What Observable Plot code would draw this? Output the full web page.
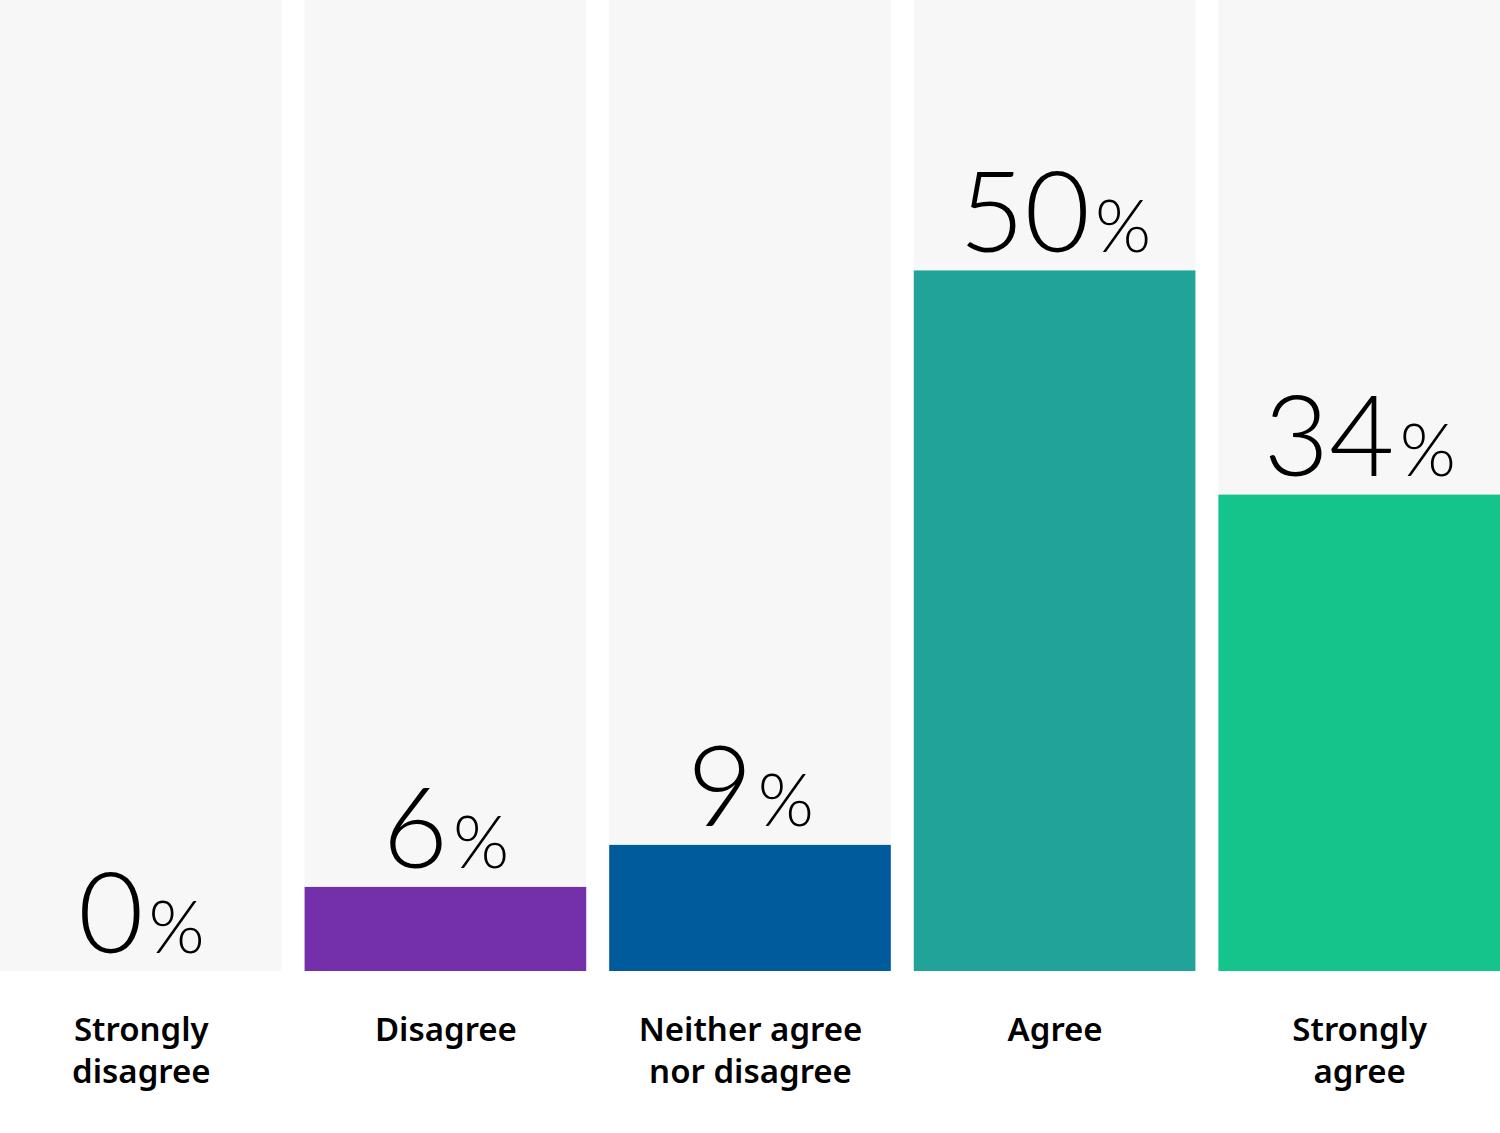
<!DOCTYPE html>
<html>
<head>
<meta charset="utf-8">
<script src="https://cdn.jsdelivr.net/npm/d3@7"></script>
<script src="https://cdn.jsdelivr.net/npm/@observablehq/plot@0.6"></script>
<style>
  html, body { margin: 0; padding: 0; background: #ffffff; }
  #chart svg { display: block; }
</style>
</head>
<body>
<div id="chart"></div>
<script>
const categories = ["Strongly disagree", "Disagree", "Neither agree nor disagree", "Agree", "Strongly agree"];
const tickLabels = ["Strongly\ndisagree", "Disagree", "Neither agree\nnor disagree", "Agree", "Strongly\nagree"];
const values = [0, 6, 9, 50, 34];
const colors = ["#9a9a9a", "#7430ab", "#005b9c", "#21a39a", "#14c48a"];

const data = categories.map((c, i) => ({category: c, value: values[i]}));
const labelOf = new Map(categories.map((c, i) => [c, tickLabels[i]]));

const chart = Plot.plot({
  width: 1500,
  height: 1133,
  marginTop: 0,
  marginBottom: 162,
  marginLeft: 0,
  marginRight: 0,
  style: {background: "#ffffff", color: "#000000", fontFamily: "Lato, sans-serif"},
  x: {domain: categories, paddingInner: 0.0754, paddingOuter: 0, round: false, axis: null},
  y: {domain: [0, 69.3], axis: null},
  color: {domain: categories, range: colors},
  marks: [
    Plot.cell(categories, {x: d => d, fill: "#f7f7f7"}),
    Plot.barY(data, {x: "category", y: "value", fill: "category"}),
    Plot.text(data, {
      x: "category", y: "value", text: d => String(d.value),
      dy: -19, lineAnchor: "bottom", fontSize: 113, fontWeight: 300,
      fontFamily: "Lato", fill: "#000000",
      render(index, scales, vals, dimensions, context, next) {
        const g = next(index, scales, vals, dimensions, context);
        d3.select(g).selectAll("text").each(function() {
          d3.select(this).append("tspan").attr("font-size", 72).attr("dx", 5).text("%");
        });
        return g;
      }
    }),
    Plot.axisX({
      tickSize: 0, tickPadding: 39, tickFormat: d => labelOf.get(d),
      fontSize: 33, fontWeight: 600, fontFamily: "Noto Sans", lineHeight: 1.28,
      label: null, fill: "#000000"
    })
  ]
});
document.getElementById("chart").appendChild(chart);
</script>
</body>
</html>
